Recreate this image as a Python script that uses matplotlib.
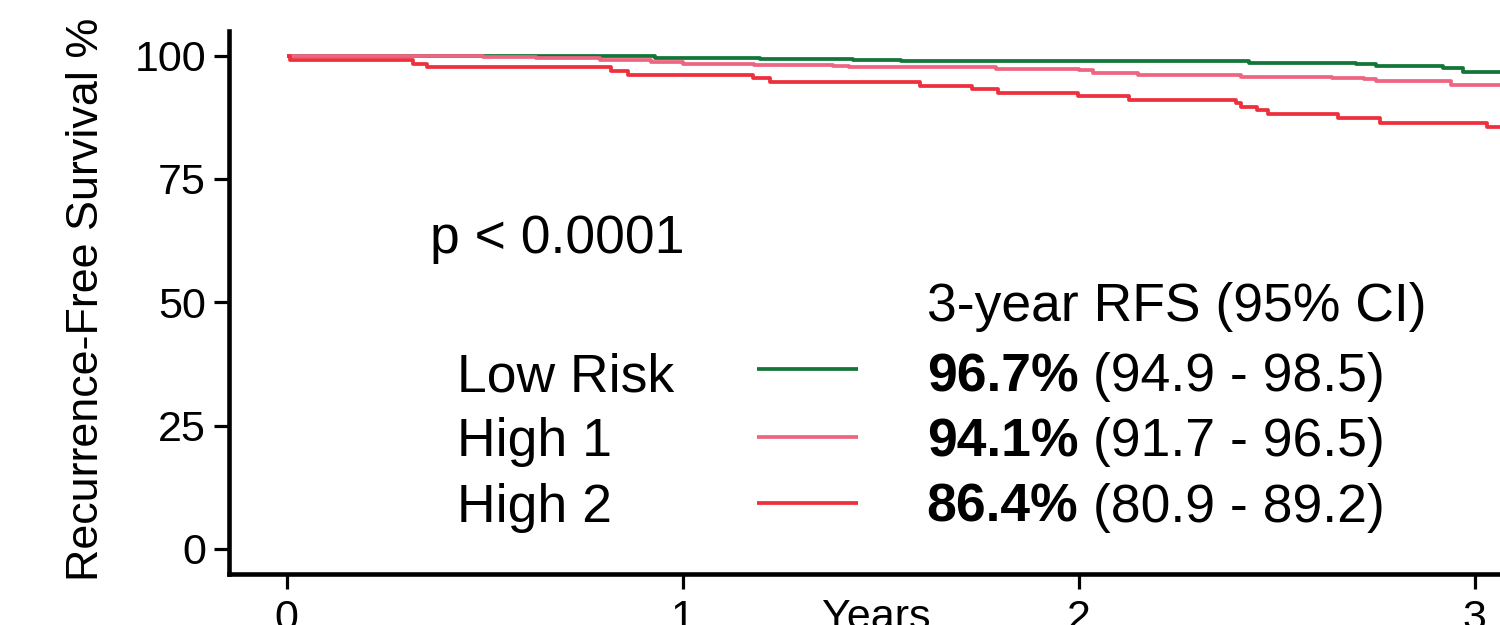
import matplotlib
matplotlib.use('Agg')
import matplotlib.pyplot as plt

plt.rcParams['font.family'] = ['Liberation Sans', 'DejaVu Sans']

# Kaplan-Meier step data (years, % recurrence-free)
low_t = [0, 0.24, 0.93, 1.0, 1.195, 1.43, 1.55, 2.43, 2.70, 2.75, 2.92, 2.97, 3.12]
low_s = [100, 99.85, 99.6, 99.45, 99.3, 99.15, 98.95, 98.6, 98.3, 97.9, 97.4, 96.7, 96.7]

high1_t = [0, 0.235, 0.495, 0.63, 0.79, 0.92, 1.0, 1.18, 1.38, 1.42, 1.79, 2.0,
           2.035, 2.15, 2.41, 2.64, 2.72, 2.75, 2.94, 3.12]
high1_s = [100, 99.9, 99.75, 99.55, 99.1, 98.75, 98.4, 98.2, 97.9, 97.6, 97.3, 97.0,
           96.5, 96.0, 95.7, 95.4, 95.2, 94.9, 94.1, 94.1]

high2_t = [0, 0.008, 0.318, 0.353, 0.82, 0.862, 1.177, 1.22, 1.6, 1.73, 1.796, 1.998,
           2.128, 2.398, 2.41, 2.449, 2.477, 2.654, 2.76, 3.03, 3.12]
high2_s = [100, 99.2, 98.4, 97.6, 96.8, 96.1, 95.4, 94.7, 93.9, 93.2, 92.5, 91.8,
           91.1, 90.3, 89.6, 89.0, 88.2, 87.4, 86.4, 85.6, 85.6]

groups = ['Low Risk', 'High 1', 'High 2']
colors = ['#137537', '#EE6582', '#EE2F3C']
rfs3 = ['96.7%', '94.1%', '86.4%']
ci3 = ['(94.9 - 98.5)', '(91.7 - 96.5)', '(80.9 - 89.2)']
yticks = [0, 25, 50, 75, 100]
xticks = [0, 1, 2, 3]

fig = plt.figure(figsize=(15, 6.25), dpi=100)
ax = fig.add_axes([229 / 1500, 51.5 / 625, 1292 / 1500, 542.5 / 625])

for t, s, c in zip([low_t, high1_t, high2_t], [low_s, high1_s, high2_s], colors):
    ax.plot(t, s, drawstyle='steps-post', color=c, lw=2.7, solid_capstyle='butt')

ax.set_xlim(-0.146, 3.117)
ax.set_ylim(-5, 105)
ax.set_xticks(xticks)
ax.set_yticks(yticks)
ax.set_xticklabels([str(v) for v in xticks])
ax.set_yticklabels([str(v) for v in yticks])
for side in ['top', 'right']:
    ax.spines[side].set_visible(False)
for side in ['left', 'bottom']:
    ax.spines[side].set_linewidth(3.3)
ax.tick_params(axis='both', length=10.5, width=2.3, labelsize=31, color='black')
ax.tick_params(axis='y', pad=6)
ax.tick_params(axis='x', pad=8)

fig.text(87 / 1500, 1 - 299 / 625, 'Recurrence-Free Survival %', rotation=90,
         ha='center', va='center', fontsize=32.3)
fig.text(876 / 1500, -4 / 625, 'Years', ha='center', va='baseline', fontsize=31)

fs = 38.5
ax.text(0.361, 60.0, 'p < 0.0001', fontsize=fs, va='baseline')
ax.text(1.616, 46.2, '3-year RFS (95% CI)', fontsize=fs, va='baseline')

row_y = [32.0, 18.8, 5.5]
line_y = [36.5, 22.7, 9.3]
for g, c, r, ci, yb, yl in zip(groups, colors, rfs3, ci3, row_y, line_y):
    ax.text(0.429, yb, g, fontsize=fs, va='baseline')
    ax.plot([1.187, 1.442], [yl, yl], color=c, lw=2.7, solid_capstyle='butt')
    bold = ax.text(1.616, yb, r, fontsize=fs, fontweight='bold', va='baseline')
    ax.annotate(' ' + ci, xy=(1, yb), xycoords=(bold, 'data'),
                fontsize=fs, va='baseline', ha='left')

fig.savefig('out.png', dpi=100)
